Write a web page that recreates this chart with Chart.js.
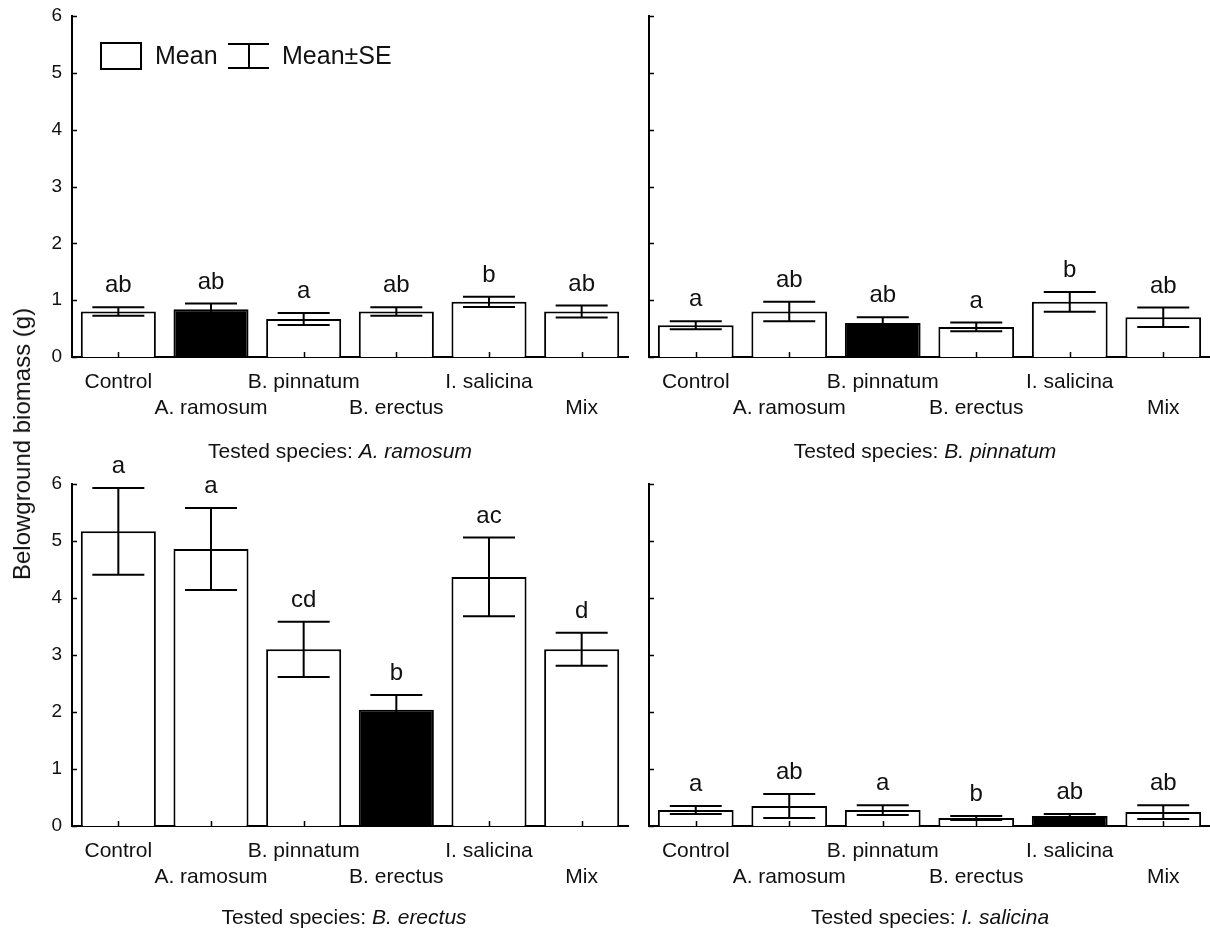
<!DOCTYPE html>
<html>
<head>
<meta charset="utf-8">
<script src="https://cdn.jsdelivr.net/npm/chart.js@4.4.0/dist/chart.umd.min.js"></script>
<style>
body { margin:0; background:#fff; width:1210px; height:932px; position:relative; overflow:hidden;
       font-family:"Liberation Sans", Arial, sans-serif; color:#111; }
canvas { position:absolute; }
.sub { position:absolute; font-size:21px; transform:translate(-50%,-50%); white-space:nowrap; }
#ytitle { position:absolute; left:22px; top:444px; font-size:24px; white-space:nowrap;
          transform:translate(-50%,-50%) rotate(-90deg); }
</style>
</head>
<body>
<canvas id="c1" width="640" height="470" style="left:0;top:0;width:640px;height:470px"></canvas>
<canvas id="c2" width="600" height="470" style="left:610px;top:0;width:600px;height:470px"></canvas>
<canvas id="c3" width="640" height="492" style="left:0;top:440px;width:640px;height:492px"></canvas>
<canvas id="c4" width="600" height="492" style="left:610px;top:440px;width:600px;height:492px"></canvas>
<div id="ytitle">Belowground biomass (g)</div>
<script>
var categories = ['Control', 'A. ramosum', 'B. pinnatum', 'B. erectus', 'I. salicina', 'Mix'];
var yTicks = [0, 1, 2, 3, 4, 5, 6];

// tested species: A. ramosum
var meanAram = [0.80, 0.84, 0.67, 0.80, 0.97, 0.80];
var seAram = [0.075, 0.10, 0.105, 0.075, 0.09, 0.105];
var lettersAram = ['ab', 'ab', 'a', 'ab', 'b', 'ab'];
// tested species: B. pinnatum
var meanBpin = [0.56, 0.80, 0.60, 0.53, 0.97, 0.70];
var seBpin = [0.07, 0.17, 0.10, 0.075, 0.175, 0.17];
var lettersBpin = ['a', 'ab', 'ab', 'a', 'b', 'ab'];
// tested species: B. erectus
var meanBere = [5.17, 4.86, 3.10, 2.04, 4.37, 3.10];
var seBere = [0.76, 0.72, 0.485, 0.26, 0.69, 0.29];
var lettersBere = ['a', 'a', 'cd', 'b', 'ac', 'd'];
// tested species: I. salicina
var meanIsal = [0.28, 0.35, 0.28, 0.14, 0.175, 0.245];
var seIsal = [0.07, 0.21, 0.085, 0.035, 0.035, 0.12];
var lettersIsal = ['a', 'ab', 'a', 'b', 'ab', 'ab'];

var FONT = '"Liberation Sans", Arial, sans-serif';
Chart.defaults.font.family = FONT;
Chart.defaults.color = '#111';

var panels = [
    { id: 'c1', tested: 'A. ramosum', mean: meanAram, se: seAram, letters: lettersAram,
      padTop: 16, padRight: 12, yW: 72, xH: 113, tickLabels: true, legend: true, sub: [340, 451] },
    { id: 'c2', tested: 'B. pinnatum', mean: meanBpin, se: seBpin, letters: lettersBpin,
      padTop: 16, padRight: 0, yW: 39, xH: 113, tickLabels: false, legend: false, sub: [925, 451] },
    { id: 'c3', tested: 'B. erectus', mean: meanBere, se: seBere, letters: lettersBere,
      padTop: 44, padRight: 12, yW: 72, xH: 106, tickLabels: true, legend: false, sub: [344, 917] },
    { id: 'c4', tested: 'I. salicina', mean: meanIsal, se: seIsal, letters: lettersIsal,
      padTop: 44, padRight: 0, yW: 39, xH: 106, tickLabels: false, legend: false, sub: [930, 917] }
];

// staggered category labels: odd ones go to a second line
function staggered(cats) {
    return cats.map(function (c, i) { return i % 2 ? ['', c] : c; });
}

var errorBars = {
    id: 'errorBars',
    afterDatasetsDraw: function (chart, args, opts) {
        var ctx = chart.ctx, y = chart.scales.y;
        var bars = chart.getDatasetMeta(0).data;
        ctx.save();
        ctx.strokeStyle = '#000';
        ctx.lineWidth = 2;
        bars.forEach(function (bar, i) {
            var top = y.getPixelForValue(opts.mean[i] + opts.se[i]);
            var bot = y.getPixelForValue(opts.mean[i] - opts.se[i]);
            ctx.beginPath();
            ctx.moveTo(bar.x, top); ctx.lineTo(bar.x, bot);
            ctx.moveTo(bar.x - 26, top); ctx.lineTo(bar.x + 26, top);
            ctx.moveTo(bar.x - 26, bot); ctx.lineTo(bar.x + 26, bot);
            ctx.stroke();
            ctx.fillStyle = '#111';
            ctx.font = '24px ' + FONT;
            ctx.textAlign = 'center';
            ctx.textBaseline = 'alphabetic';
            ctx.fillText(opts.letters[i], bar.x, top - 15);
        });
        ctx.restore();
    }
};

// tick marks pointing into the plot
var innerTicks = {
    id: 'innerTicks',
    afterDraw: function (chart) {
        var ctx = chart.ctx, a = chart.chartArea, y = chart.scales.y, x = chart.scales.x;
        ctx.save();
        ctx.strokeStyle = '#000';
        ctx.lineWidth = 1.5;
        ctx.beginPath();
        yTicks.forEach(function (v) {
            var py = Math.round(y.getPixelForValue(v)) + 0.5;
            ctx.moveTo(a.left, py); ctx.lineTo(a.left + 5, py);
        });
        categories.forEach(function (c, i) {
            var px = Math.round(x.getPixelForValue(i)) + 0.5;
            ctx.moveTo(px, a.bottom); ctx.lineTo(px, a.bottom - 5);
        });
        ctx.stroke();
        ctx.restore();
    }
};

var legendBox = {
    id: 'legendBox',
    afterDraw: function (chart, args, opts) {
        if (!opts.show) return;
        var ctx = chart.ctx;
        ctx.save();
        ctx.strokeStyle = '#000';
        ctx.lineWidth = 2;
        ctx.strokeRect(101, 43, 40, 26);
        ctx.beginPath();
        ctx.moveTo(228, 44); ctx.lineTo(269, 44);
        ctx.moveTo(228, 68); ctx.lineTo(269, 68);
        ctx.moveTo(249, 44); ctx.lineTo(249, 68);
        ctx.stroke();
        ctx.fillStyle = '#111';
        ctx.font = '25px ' + FONT;
        ctx.textAlign = 'left';
        ctx.textBaseline = 'middle';
        ctx.fillText('Mean', 155, 57);
        ctx.fillText('Mean\u00b1SE', 282, 57);
        ctx.restore();
    }
};

panels.forEach(function (p) {
    var self = categories.indexOf(p.tested);
    var ctx = document.getElementById(p.id).getContext('2d');
    new Chart(ctx, {
        type: 'bar',
        data: {
            labels: staggered(categories),
            datasets: [{
                data: p.mean,
                backgroundColor: categories.map(function (c, i) { return i === self ? '#000' : '#fff'; }),
                borderColor: '#000',
                borderWidth: 2,
                borderSkipped: 'bottom',
                barPercentage: 0.81,
                categoryPercentage: 1
            }]
        },
        options: {
            responsive: false,
            animation: false,
            layout: { padding: { left: 0, right: p.padRight, top: p.padTop, bottom: 0 } },
            plugins: {
                legend: { display: false },
                tooltip: { enabled: false },
                errorBars: { mean: p.mean, se: p.se, letters: p.letters },
                legendBox: { show: p.legend }
            },
            scales: {
                x: {
                    offset: true,
                    grid: { display: false, drawTicks: false },
                    border: { display: true, color: '#000', width: 2 },
                    ticks: { autoSkip: false, maxRotation: 0, minRotation: 0, padding: 12,
                             color: '#111', font: { size: 21, lineHeight: 1.24 } },
                    afterFit: function (s) {
                        s.height = p.xH;
                        s.paddingLeft = 0; s.paddingRight = 0;
                    }
                },
                y: {
                    min: 0, max: 6,
                    grid: { display: false, drawTicks: false },
                    border: { display: true, color: '#000', width: 2 },
                    ticks: { display: p.tickLabels, stepSize: 1, padding: 10,
                             color: '#111', font: { size: 19 } },
                    afterFit: function (s) {
                        s.width = p.yW;
                        s.paddingTop = 0; s.paddingBottom = 0;
                    }
                }
            }
        },
        plugins: [errorBars, innerTicks, legendBox]
    });

    var d = document.createElement('div');
    d.className = 'sub';
    d.style.left = p.sub[0] + 'px';
    d.style.top = p.sub[1] + 'px';
    d.innerHTML = 'Tested species: <i>' + p.tested + '</i>';
    document.body.appendChild(d);
});
</script>
</body>
</html>
